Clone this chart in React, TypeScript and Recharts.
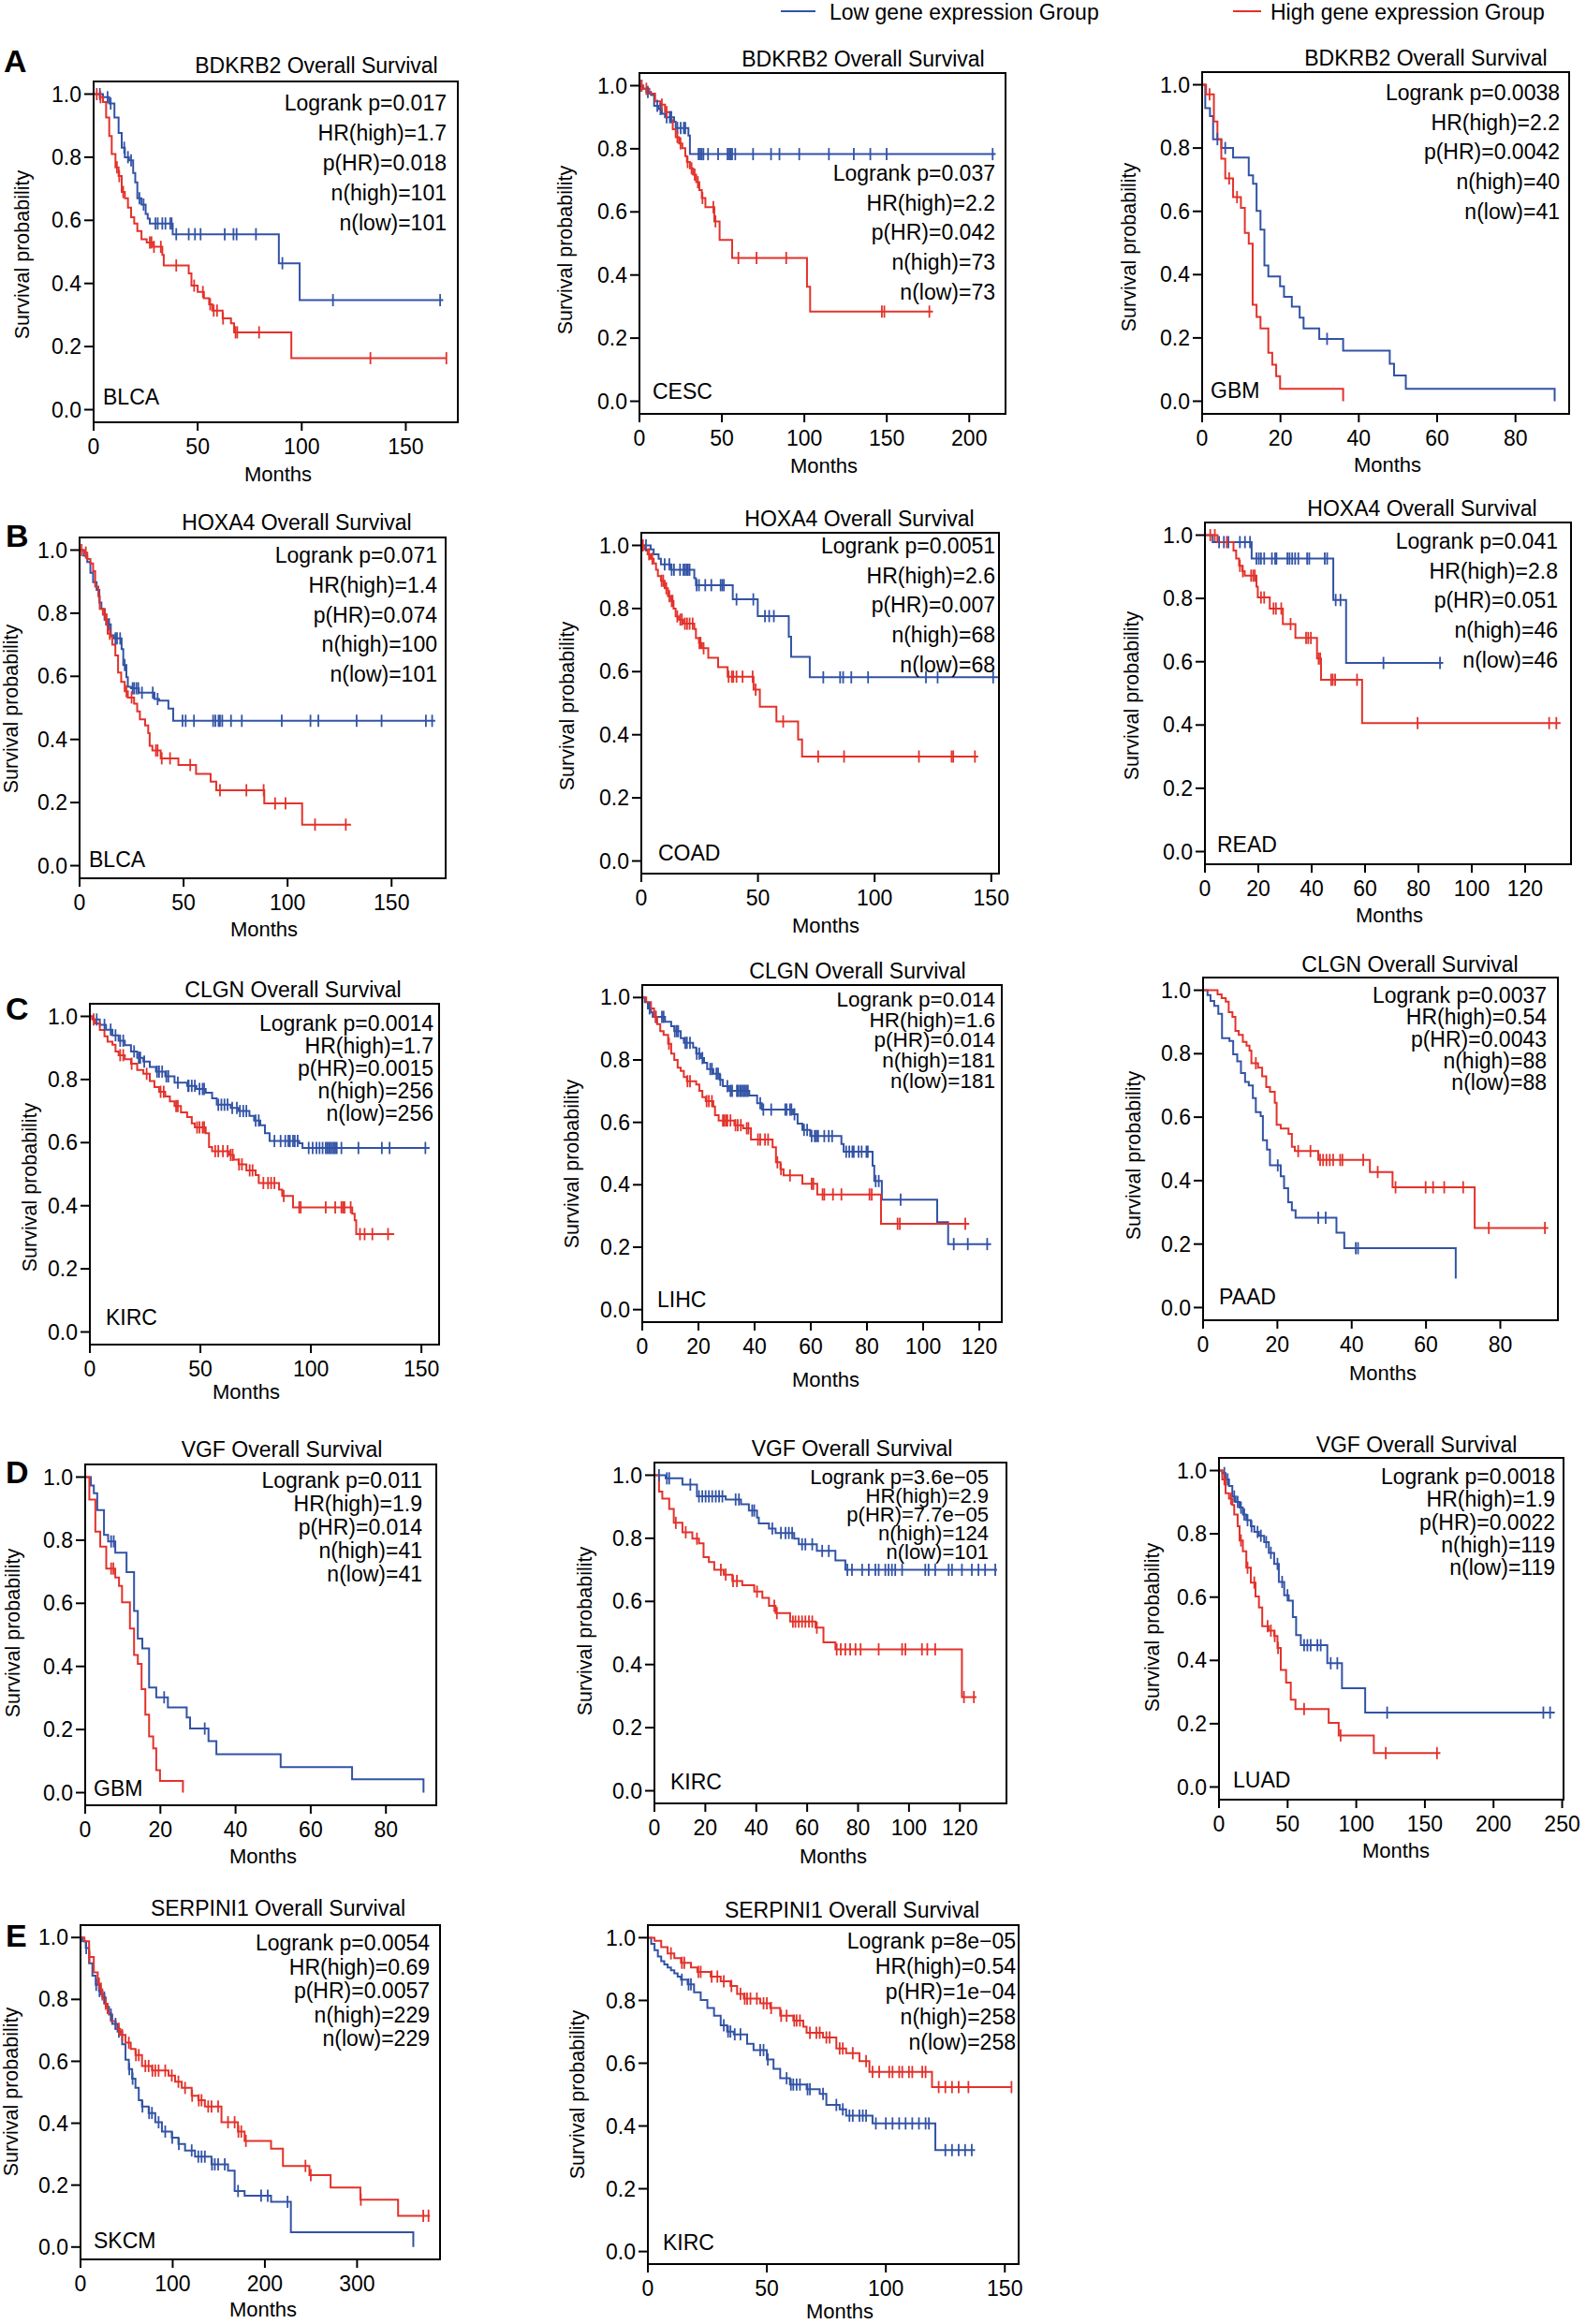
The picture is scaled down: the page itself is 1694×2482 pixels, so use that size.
import React from 'react';
import { ComposedChart, Line, Scatter, XAxis, YAxis, ReferenceArea } from 'recharts';

const BLUE = '#3253a5';
const RED = '#e3322b';
const FONT = '"Liberation Sans", Arial, Helvetica, sans-serif';

type Step = [number, number];

// ---- A: BDKRB2 ----
const a1Low: Step[] = [[0,1],[4.5,0.99],[7.5,0.97],[10,0.926],[12,0.877],[13.5,0.83],[15,0.8],[17,0.79],[19,0.75],[20,0.72],[21,0.67],[23,0.65],[25,0.62],[26,0.605],[27,0.59],[38,0.556],[89,0.464],[99,0.347],[168,0.347]];
const a1LowCens = [3,6.7,8.2,14.7,16.5,18,22,24,29.7,30.8,33,34.5,36.8,37.5,39.7,45.7,48.7,51.4,63,67.2,68.7,78,90.7,115,166.5];
const a1High: Step[] = [[0,1],[3,0.99],[4.5,0.975],[6,0.926],[7.5,0.867],[8.7,0.81],[10.5,0.768],[12,0.74],[13.5,0.69],[15,0.67],[16.5,0.64],[18,0.61],[19.5,0.59],[21,0.566],[23,0.54],[25.5,0.53],[28.5,0.516],[33,0.49],[33.7,0.457],[45.7,0.432],[47,0.393],[50,0.373],[53,0.353],[55.5,0.334],[57,0.314],[62,0.289],[66,0.274],[67.5,0.245],[95,0.163],[169.5,0.163]];
const a1HighCens = [1.5,3.3,11.2,12.3,14.2,27,27.8,29,32.3,39.7,48.3,52.5,56,57.7,59.3,62.2,68.2,69,79.5,133,169.5];
const a1Stats = ['Logrank p=0.017', 'HR(high)=1.7', 'p(HR)=0.018', 'n(high)=101', 'n(low)=101'];

const a2Low: Step[] = [[0,1],[2.3,0.99],[4.2,0.98],[7,0.97],[8.9,0.936],[11.7,0.926],[13.6,0.911],[15.5,0.9],[21,0.886],[22,0.866],[29.7,0.842],[30.6,0.783],[216,0.783]];
const a2LowCens = [1.3,5.1,10.8,12.7,16.5,18.4,19.3,23,25,26.9,27.8,35.8,36.9,37.8,38.8,41.6,47.7,53.4,54.5,55.3,56.2,58.1,68.9,79.8,84.9,96.9,114.9,130,140,149.9,214.2];
const a2High: Step[] = [[0,1],[2.3,0.99],[6,0.975],[9.5,0.95],[12.7,0.94],[15.5,0.916],[19,0.891],[20.2,0.862],[22,0.837],[24,0.817],[26,0.802],[27.8,0.777],[28.8,0.758],[30.6,0.738],[32.5,0.718],[34.4,0.694],[36.3,0.669],[37.8,0.644],[40,0.615],[45.4,0.57],[48.6,0.511],[56.2,0.454],[101.6,0.363],[103.5,0.284],[178,0.284]];
const a2HighCens = [1.3,4.2,13.6,16.5,23,24.9,29.2,31.6,33.5,35.4,38.2,44.8,46.1,60,71,89,147,148.5,175.8];
const a2Stats = ['Logrank p=0.037', 'HR(high)=2.2', 'p(HR)=0.042', 'n(high)=73', 'n(low)=73'];

const a3Low: Step[] = [[0,1],[0.8,0.926],[2,0.901],[2.8,0.828],[4.9,0.8],[7.9,0.77],[11.9,0.714],[13,0.687],[13.9,0.601],[14.9,0.542],[15.9,0.429],[16.9,0.394],[19.9,0.363],[20.9,0.33],[22.9,0.299],[24.9,0.264],[25.9,0.23],[29.9,0.197],[36,0.16],[47.9,0.118],[49,0.081],[52,0.039],[90,0]];
const a3LowCens = [3.9,5.9,31.9];
const a3High: Step[] = [[0,1],[1,0.97],[3,0.884],[3.9,0.828],[4.9,0.766],[5.9,0.704],[7.9,0.645],[9.9,0.611],[10.9,0.532],[11.9,0.498],[12.9,0.305],[13.9,0.266],[14.9,0.23],[16.9,0.153],[17.9,0.115],[18.9,0.079],[19.9,0.039],[36,0]];
const a3HighCens = [1.9,6.9,8.9];
const a3Stats = ['Logrank p=0.0038', 'HR(high)=2.2', 'p(HR)=0.0042', 'n(high)=40', 'n(low)=41'];

// ---- B: HOXA4 ----
const b1Low: Step[] = [[0,1],[2,0.982],[3.7,0.962],[5.2,0.928],[6.5,0.898],[8.2,0.874],[9.5,0.834],[10.5,0.814],[12,0.78],[13.5,0.765],[15,0.73],[16.5,0.72],[20.2,0.686],[21,0.636],[22.5,0.597],[23.2,0.567],[24.7,0.562],[28.5,0.548],[36,0.528],[38.2,0.523],[42.7,0.498],[45,0.459],[171,0.459]];
const b1LowCens = [12.7,14.2,17.2,18,19.5,21.7,25.5,26.2,27.3,28.2,30,35.2,37.5,49.5,51,55,64.2,65.3,66.8,67.5,68.6,72.8,78,97.2,111,114.8,133.2,145.2,166.5,169.5];
const b1High: Step[] = [[0,1],[2.2,0.992],[3.7,0.972],[5.2,0.958],[6.5,0.933],[7.5,0.884],[9,0.854],[9.7,0.814],[11.2,0.795],[12.7,0.78],[13.5,0.735],[15,0.726],[15.7,0.7],[17.2,0.666],[18.5,0.612],[20,0.582],[21.7,0.553],[23.2,0.533],[26.2,0.513],[27.7,0.489],[29,0.464],[31.5,0.444],[33,0.42],[33.7,0.38],[35,0.365],[39,0.34],[47.5,0.319],[56,0.291],[63,0.266],[65.7,0.239],[88.8,0.197],[107,0.13],[130.5,0.13]];
const b1HighCens = [1,3,12.2,13,14.5,22.5,25,36.7,37.5,39.5,43.5,53.2,67.5,80.2,88.5,94,99,113.2,128];
const b1Stats = ['Logrank p=0.071', 'HR(high)=1.4', 'p(HR)=0.074', 'n(high)=100', 'n(low)=101'];

const b2Low: Step[] = [[0,1],[4,0.987],[5.3,0.972],[7.4,0.958],[8.4,0.94],[12.7,0.923],[22.7,0.896],[23.4,0.874],[39.2,0.829],[49.9,0.776],[63.2,0.711],[64.2,0.647],[72.2,0.582],[153,0.582]];
const b2LowCens = [2,10,12,13,14,16.6,18,18.7,19.4,20,20.7,23.7,24.7,27.4,30,34,34.7,35.4,40.8,48,53,54.8,56.8,78,85.2,86.5,90,97.2,122,127,150.8];
const b2High: Step[] = [[0,1],[1.3,0.987],[2.7,0.972],[4,0.958],[5.3,0.943],[6.3,0.923],[7.1,0.903],[8.4,0.888],[10,0.864],[11.4,0.839],[12.7,0.824],[13.8,0.8],[14.7,0.775],[16,0.765],[18,0.752],[22.7,0.735],[23.4,0.706],[24.7,0.691],[26,0.674],[28.7,0.644],[32.9,0.614],[37,0.584],[48.1,0.543],[50.8,0.489],[57.9,0.442],[67.2,0.385],[68.9,0.331],[144.4,0.331]];
const b2HighCens = [0.7,3.3,4.7,8.7,9.4,10.7,12,13,13.4,15.4,16.7,17.4,18.7,19.6,20.7,22,24.9,25.4,26.7,37.4,38.8,39.4,40.8,43.4,47.7,49,60.8,75.8,86.9,119,133,133.7,143];
const b2Stats = ['Logrank p=0.0051', 'HR(high)=2.6', 'p(HR)=0.007', 'n(high)=68', 'n(low)=68'];

const b3Low: Step[] = [[0,1],[2.9,0.978],[17.5,0.926],[48.1,0.795],[52.9,0.596],[89.3,0.596]];
const b3LowCens = [5.3,7.1,8.8,13.1,15,16.9,19.3,20.2,21,22.2,25.1,26.3,26.8,30.9,31.7,32.7,33.8,35,38.3,39.1,44.9,45.8,49,50.8,66.9,88.1];
const b3High: Step[] = [[0,1],[4.7,0.978],[10.7,0.951],[11.7,0.926],[12.8,0.903],[14,0.886],[14.9,0.872],[19.3,0.837],[19.8,0.803],[24.3,0.768],[29.2,0.719],[33.9,0.675],[42,0.61],[43.5,0.543],[58.9,0.406],[133.3,0.406]];
const b3HighCens = [2,3.7,8.2,13.1,14.2,17.3,18.1,18.7,21,22.2,25.7,26.6,28.6,32.1,37.9,38.7,39.7,42.6,43.2,47.3,47.9,48.8,57,79.7,129,131.7];
const b3Stats = ['Logrank p=0.041', 'HR(high)=2.8', 'p(HR)=0.051', 'n(high)=46', 'n(low)=46'];

// ---- C: CLGN ----
const c1Low: Step[] = [[0,1],[1.7,0.99],[4.5,0.973],[7.3,0.958],[10.2,0.94],[13,0.923],[15.8,0.909],[18.6,0.889],[21.4,0.869],[24.2,0.857],[27.1,0.84],[29.9,0.825],[34.1,0.81],[38.3,0.79],[44,0.78],[48.2,0.77],[52.4,0.758],[55.3,0.74],[57.4,0.72],[63.7,0.71],[67.3,0.7],[72.2,0.685],[74.3,0.67],[77.1,0.655],[79.2,0.63],[81.3,0.605],[94.7,0.598],[96.2,0.583],[153.7,0.583]];
const c1LowCens = [3.1,6.6,9.4,11.6,13.7,15.1,20,22.1,22.8,24.6,30.4,31.3,32.7,34.6,35.5,39.8,44.4,44.7,46.1,47.5,49.6,51,51.7,58.1,59.5,60.9,62.3,64.4,66.5,67.9,69.4,70.8,75,76.4,83.5,86.3,88.4,89.8,90.5,91.9,92.7,94,99,100.8,102.5,103.9,105.3,106.7,107.4,108.1,108.8,109.6,110.3,111,111.7,113.8,121.5,132.1,135.6,151.8];
const c1High: Step[] = [[0,1],[1,0.99],[2.4,0.978],[4.5,0.957],[6.6,0.937],[8,0.92],[10.2,0.91],[11.6,0.889],[13,0.877],[15.8,0.864],[18.6,0.85],[21.4,0.83],[24.2,0.818],[27.1,0.795],[29.2,0.776],[31.3,0.761],[34.1,0.746],[36.2,0.731],[38.3,0.716],[41.2,0.696],[44,0.681],[46.1,0.661],[47.5,0.648],[52.4,0.63],[53.9,0.586],[55.3,0.573],[63,0.561],[65.1,0.546],[67.3,0.531],[70.8,0.512],[75,0.497],[76.4,0.472],[85.6,0.451],[87,0.431],[91.9,0.395],[118.7,0.375],[119.8,0.354],[120.5,0.31],[137.7,0.31]];
const c1HighCens = [1.7,13.7,15.1,18.9,25.7,32,33.4,39,39.8,48.5,49.6,51,51.7,56.7,58.1,60.2,62.3,63.7,64.6,67.5,68.8,72.3,73.6,78.5,80.6,82,83.5,87.7,94.7,95.4,106.7,111,113.8,114.5,115.2,118,122.2,124.3,127.8,134.9];
const c1Stats = ['Logrank p=0.0014', 'HR(high)=1.7', 'p(HR)=0.0015', 'n(high)=256', 'n(low)=256'];

const c2Low: Step[] = [[0,1],[0.9,0.985],[2,0.965],[3.1,0.952],[3.7,0.938],[8.1,0.922],[10.3,0.908],[11.4,0.892],[13.7,0.87],[14.8,0.855],[18.1,0.84],[19.2,0.82],[20.9,0.806],[22,0.791],[23.1,0.771],[25.3,0.756],[27.6,0.736],[28.7,0.716],[30.9,0.701],[38.1,0.686],[40.9,0.661],[42.6,0.641],[53.7,0.626],[55.3,0.596],[57,0.576],[59.8,0.556],[70.9,0.531],[71.7,0.506],[82,0.461],[82.6,0.412],[85.3,0.352],[105,0.28],[108.9,0.21],[124.2,0.21]];
const c2LowCens = [2.6,4.8,7,7.6,11.6,12.3,12.8,15.3,15.9,17,19.4,20.3,21.4,24.2,24.8,26.4,27,27.8,30.3,31.4,32,33.7,34.2,34.8,35.3,35.9,36.4,37,37.6,42,43.1,45.9,50.9,51.4,52.6,53.1,54.2,57.6,58.7,60.3,61.4,62,62.6,64.8,66.4,67.6,72.6,73.7,74.8,75.3,77,78.1,79.8,80.3,83.1,84.2,92,110.9,115.9,122.8];
const c2High: Step[] = [[0,1],[1.4,0.985],[3.1,0.965],[4.2,0.938],[5.3,0.915],[6.4,0.892],[7.6,0.88],[9.2,0.852],[10.3,0.82],[11.4,0.8],[12.6,0.775],[13.7,0.765],[14.8,0.745],[15.9,0.732],[19.2,0.721],[20.3,0.701],[21.4,0.681],[22.6,0.668],[25.3,0.651],[25.9,0.623],[27.2,0.606],[32.8,0.591],[35.9,0.581],[38.7,0.545],[46.4,0.52],[47.6,0.472],[49.2,0.45],[50.3,0.43],[57,0.403],[62.3,0.369],[85,0.275],[116.4,0.275]];
const c2HighCens = [4.8,9.5,16.1,17,22.9,23.7,24.8,28.7,29.2,29.8,30.3,31.4,33.2,34,35.1,37.2,37.8,41.2,42,43.7,44.8,48.1,49.4,52.6,60.3,60.9,64.2,64.8,67.9,70.9,80.9,81.7,90.9,91.7,115];
const c2Stats = ['Logrank p=0.014', 'HR(high)=1.6', 'p(HR)=0.014', 'n(high)=181', 'n(low)=181'];

const c3Low: Step[] = [[0,1],[1.2,0.985],[2,0.966],[3,0.951],[4.1,0.926],[5.1,0.849],[7.1,0.84],[8.1,0.798],[9.2,0.776],[10.2,0.739],[11.3,0.711],[12.3,0.7],[13.4,0.66],[14.2,0.616],[15.5,0.603],[16.1,0.527],[17.2,0.498],[18,0.448],[20.9,0.414],[21.8,0.376],[22.9,0.332],[23.9,0.307],[24.9,0.283],[35.9,0.236],[38,0.187],[68,0.091]];
const c3LowCens = [20.1,31,33,41.1,41.7];
const c3High: Step[] = [[0,1],[3.9,0.987],[5,0.975],[6.1,0.964],[6.9,0.931],[7.9,0.916],[8.7,0.872],[9.6,0.859],[10.7,0.837],[11.7,0.825],[12.5,0.81],[13,0.77],[14.8,0.756],[15.9,0.729],[17,0.695],[18,0.68],[19.3,0.645],[19.8,0.576],[20.9,0.564],[23,0.547],[23.9,0.507],[24.7,0.493],[31,0.465],[44.9,0.427],[51,0.379],[73.1,0.251],[92.9,0.251]];
const c3HighCens = [14.2,25.6,28.9,31.5,32.3,33.2,34.1,35,36.9,37.5,43.1,47,51.8,59.9,61.9,64.9,70,76.9,92];
const c3Stats = ['Logrank p=0.0037', 'HR(high)=0.54', 'p(HR)=0.0043', 'n(high)=88', 'n(low)=88'];

// ---- D: VGF ----
const d1Low: Step[] = [[0,1],[1.5,0.973],[2.3,0.949],[3.2,0.895],[5,0.817],[6.1,0.796],[8,0.76],[11,0.699],[13,0.576],[14,0.488],[15.2,0.457],[17,0.333],[18.9,0.302],[22,0.27],[27,0.238],[27.9,0.203],[32.8,0.163],[34.9,0.122],[52,0.081],[71,0.042],[90,0]];
const d1LowCens = [6.9,7.6,21,31.8];
const d1High: Step[] = [[0,1],[1.1,0.929],[2.7,0.827],[4,0.78],[5.6,0.71],[8,0.682],[9,0.655],[9.8,0.603],[11.9,0.52],[13,0.436],[14,0.408],[15,0.328],[16,0.247],[17,0.178],[18.1,0.14],[18.9,0.071],[19.9,0.037],[26,0]];
const d1HighCens = [6.9,7.5];
const d1Stats = ['Logrank p=0.011', 'HR(high)=1.9', 'p(HR)=0.014', 'n(high)=41', 'n(low)=41'];

const d2Low: Step[] = [[0,1],[4.4,0.99],[11,0.97],[16.7,0.933],[28,0.923],[34,0.908],[37.1,0.888],[40.3,0.866],[41,0.847],[45,0.831],[47.6,0.817],[54.9,0.799],[56.7,0.781],[63.8,0.76],[71.1,0.73],[75,0.7],[134.6,0.7]];
const d2LowCens = [1.8,4.9,5.8,14.1,17.5,18.8,20.1,21.4,22.7,24.1,25.4,26.7,31.9,33.2,38.4,39.2,46.3,49.7,51.5,52.8,54.1,58,59.3,62,65.9,68.5,75.8,77.6,81.6,84.2,86.8,88.1,90.7,92,93.3,94.6,97.3,106.4,107.7,110.3,115.6,116.9,120.8,124.7,127.3,129.9,133.9];
const d2High: Step[] = [[0,1],[1.8,0.948],[3.1,0.926],[5.8,0.893],[7.6,0.849],[11,0.819],[14.9,0.799],[17.5,0.784],[19.3,0.74],[21.4,0.725],[23.5,0.7],[27.2,0.685],[30.6,0.665],[34.5,0.651],[39.2,0.631],[42.4,0.611],[45,0.586],[47.6,0.563],[53.3,0.536],[63.3,0.517],[66.4,0.47],[71.1,0.448],[120.8,0.297],[126.5,0.297]];
const d2HighCens = [8.4,12.3,16.7,26.1,28,30.9,32.4,40.3,47.1,48.1,54.4,55.4,56.7,58,59.3,60.7,62,63.8,71.6,73.2,75,76.9,79,81,88.1,97.3,98.6,105.1,107.2,110.3,121.6,125.5];
const d2Stats = ['Logrank p=3.6e\u221205', 'HR(high)=2.9', 'p(HR)=7.7e\u221205', 'n(high)=124', 'n(low)=101'];

const d3Low: Step[] = [[0,1],[2.4,0.992],[4.8,0.972],[7.3,0.951],[9.7,0.918],[12.1,0.901],[15,0.883],[17.4,0.861],[19.9,0.843],[23.2,0.824],[25.7,0.806],[29.1,0.794],[32.9,0.774],[36.3,0.74],[40.2,0.705],[43.6,0.648],[47.5,0.606],[50.8,0.589],[53.8,0.537],[56.2,0.48],[59.6,0.448],[78.9,0.391],[89.6,0.312],[106.5,0.235],[244.6,0.235]];
const d3LowCens = [3.9,6.3,11.1,13.6,16,18.4,20.8,23.7,28.1,30.5,34.4,37.8,42.6,46,49.9,62,64.4,66.8,71.7,74.1,81.4,86.2,122.5,236.3,241.2];
const d3High: Step[] = [[0,1],[2.4,0.972],[4.8,0.928],[7.3,0.911],[9.7,0.891],[11.1,0.861],[13.6,0.824],[15,0.779],[17.4,0.745],[19.9,0.693],[23.2,0.646],[26.6,0.602],[29.1,0.567],[31.5,0.508],[36.3,0.494],[40.2,0.477],[42.6,0.439],[45,0.37],[48.9,0.33],[52.3,0.276],[55.7,0.246],[79.9,0.203],[87.2,0.163],[112.8,0.107],[161.3,0.107]];
const d3HighCens = [3.9,8.7,16,20.8,25.7,35.4,37.8,40.6,43,62,88.6,121.5,158.8];
const d3Stats = ['Logrank p=0.0018', 'HR(high)=1.9', 'p(HR)=0.0022', 'n(high)=119', 'n(low)=119'];

// ---- E: SERPINI1 ----
const e1Low: Step[] = [[0,1],[2.2,0.988],[5.7,0.966],[9.3,0.917],[12.9,0.877],[16.5,0.847],[20.1,0.827],[23.7,0.806],[27.3,0.776],[30.9,0.751],[34.4,0.721],[40.2,0.696],[45.2,0.655],[48.8,0.605],[52.4,0.575],[56,0.544],[59.6,0.514],[63.2,0.474],[66.7,0.454],[73.9,0.433],[81.1,0.403],[88.3,0.373],[99,0.353],[106.2,0.333],[113.4,0.312],[124.2,0.292],[142.1,0.267],[160,0.247],[167.2,0.181],[178,0.166],[206.7,0.146],[228.2,0.048],[361,0]];
const e1LowCens = [6.2,17,20.6,25.8,33,38,41.6,52.9,56.5,67.2,74.4,77.5,84.7,91.9,99.5,106.7,120.6,127.8,131.3,134.9,142.6,145.7,149.3,156.5,170.9,195.9,203.1,224.6];
const e1High: Step[] = [[0,1],[4.3,0.988],[9.3,0.937],[14.4,0.887],[18.7,0.851],[22.2,0.816],[25.8,0.786],[29.4,0.756],[33,0.73],[38,0.705],[43.1,0.685],[48.8,0.66],[54.5,0.64],[59.6,0.62],[66.7,0.585],[77.5,0.57],[95.5,0.554],[102.6,0.534],[109.8,0.514],[120.6,0.489],[127.8,0.474],[134.9,0.454],[152.9,0.403],[170.8,0.373],[178,0.343],[206.7,0.318],[219.6,0.262],[248.3,0.232],[271.3,0.192],[303.6,0.153],[344.5,0.101],[379,0.101]];
const e1HighCens = [9.8,20.1,23.7,27.3,41.6,45.2,52.4,60.1,63.2,70.3,73.9,78,81.1,84.7,91.9,99,106.2,113.4,121.1,128.3,131.3,138.5,142.1,149.3,160,167.2,171.3,174.4,179.4,244,249.8,304.1,371.8,377.5];
const e1Stats = ['Logrank p=0.0054', 'HR(high)=0.69', 'p(HR)=0.0057', 'n(high)=229', 'n(low)=229'];

const e2Low: Step[] = [[0,1],[1.4,0.98],[2.8,0.96],[4.2,0.94],[5.6,0.925],[6.9,0.915],[8.3,0.905],[9.7,0.896],[11.1,0.886],[12.5,0.876],[13.9,0.866],[16.7,0.851],[19.4,0.826],[22.2,0.801],[25,0.776],[27.8,0.751],[30.6,0.721],[33.3,0.701],[36.1,0.692],[41.7,0.662],[44.4,0.642],[50,0.612],[52.8,0.582],[55.6,0.552],[59.7,0.532],[66.7,0.517],[72.2,0.502],[75,0.467],[80.6,0.453],[83.3,0.433],[94.4,0.408],[120.8,0.323],[137.5,0.323]];
const e2LowCens = [14.3,17.1,18.1,31.9,33.7,34.7,36.5,38.9,47.2,48.6,50.4,58.3,60.1,61.1,62.5,63.9,67.1,68.1,73.6,79.2,81.9,84.7,86.1,88.9,90.3,91.7,95.8,100,102.8,105.6,108.3,111.1,113.9,116.7,118.1,125,127.8,130.6,133.3,136.1];
const e2High: Step[] = [[0,1],[2.8,0.99],[5.6,0.97],[8.3,0.95],[11.1,0.935],[13.9,0.92],[18.1,0.905],[20.8,0.891],[26.4,0.876],[30.6,0.861],[34.7,0.846],[37.5,0.821],[40.3,0.806],[47.2,0.791],[51.4,0.776],[55.6,0.751],[61.1,0.736],[65.3,0.716],[66.7,0.697],[73.6,0.682],[79.2,0.647],[83.3,0.632],[88.9,0.607],[93.1,0.572],[119.4,0.524],[152.8,0.524]];
const e2HighCens = [9.7,14.3,15.3,21.2,22.2,26.8,29.2,31.9,35.1,38.9,40.7,41.7,43.1,45.8,48.6,50,51.8,56,58.3,61.5,62.5,63.9,68.1,70.8,72.2,75,76.4,80.6,81.9,86.1,91.7,94.4,97.2,101.4,102.8,105.6,106.9,109.7,111.1,115.3,116.7,122.2,125,127.8,130.6,134.7,152.8];
const e2Stats = ['Logrank p=8e\u221205', 'HR(high)=0.54', 'p(HR)=1e\u221204', 'n(high)=258', 'n(low)=258'];

const Y_TICKS = [0, 0.2, 0.4, 0.6, 0.8, 1];
const T_50 = [0, 50, 100, 150];
const T_50_200 = [0, 50, 100, 150, 200];
const T_50_250 = [0, 50, 100, 150, 200, 250];
const T_20_80 = [0, 20, 40, 60, 80];
const T_20_120 = [0, 20, 40, 60, 80, 100, 120];
const T_100 = [0, 100, 200, 300];

type Panel = {
  id: string; x: number; y: number; w: number; h: number; xmax: number; xticks: number[];
  title: string; tx: number; ty: number; stats: string[]; sx: number; sy: number; sg: number; ss?: number;
  cancer: string; cx: number; cy: number; yx: number; yy: number; mx: number; my: number;
  low: Step[]; lowCens: number[]; high: Step[]; highCens: number[];
};

const PANELS: Panel[] = [
  { id: 'a1', x: 100, y: 87, w: 389, h: 364, xmax: 175, xticks: T_50, title: 'BDKRB2 Overall Survival', tx: 338, ty: 70, stats: a1Stats, sx: 477, sy: 110, sg: 32, cancer: 'BLCA', cx: 110, cy: 424, yx: 25, yy: 272, mx: 297, my: 507, low: a1Low, lowCens: a1LowCens, high: a1High, highCens: a1HighCens },
  { id: 'a2', x: 683, y: 78, w: 391, h: 364, xmax: 222, xticks: T_50_200, title: 'BDKRB2 Overall Survival', tx: 922, ty: 63, stats: a2Stats, sx: 1063, sy: 185, sg: 31.7, cancer: 'CESC', cx: 697, cy: 418, yx: 605, yy: 267, mx: 880, my: 498, low: a2Low, lowCens: a2LowCens, high: a2High, highCens: a2HighCens },
  { id: 'a3', x: 1284, y: 77, w: 392, h: 365, xmax: 93.7, xticks: T_20_80, title: 'BDKRB2 Overall Survival', tx: 1523, ty: 62, stats: a3Stats, sx: 1666, sy: 99, sg: 31.7, cancer: 'GBM', cx: 1293, cy: 417, yx: 1207, yy: 264, mx: 1482, my: 497, low: a3Low, lowCens: a3LowCens, high: a3High, highCens: a3HighCens },
  { id: 'b1', x: 85, y: 574, w: 391, h: 364, xmax: 176, xticks: T_50, title: 'HOXA4 Overall Survival', tx: 317, ty: 558, stats: b1Stats, sx: 467, sy: 593, sg: 31.8, cancer: 'BLCA', cx: 95, cy: 918, yx: 13, yy: 757, mx: 282, my: 993, low: b1Low, lowCens: b1LowCens, high: b1High, highCens: b1HighCens },
  { id: 'b2', x: 685, y: 569, w: 382, h: 364, xmax: 153.3, xticks: T_50, title: 'HOXA4 Overall Survival', tx: 918, ty: 554, stats: b2Stats, sx: 1063, sy: 583, sg: 31.7, cancer: 'COAD', cx: 703, cy: 911, yx: 607, yy: 754, mx: 882, my: 989, low: b2Low, lowCens: b2LowCens, high: b2High, highCens: b2HighCens },
  { id: 'b3', x: 1287, y: 558, w: 391, h: 365, xmax: 137.2, xticks: T_20_120, title: 'HOXA4 Overall Survival', tx: 1519, ty: 543, stats: b3Stats, sx: 1664, sy: 578, sg: 31.7, cancer: 'READ', cx: 1300, cy: 902, yx: 1210, yy: 743, mx: 1484, my: 978, low: b3Low, lowCens: b3LowCens, high: b3High, highCens: b3HighCens },
  { id: 'c1', x: 96, y: 1072, w: 373, h: 364, xmax: 158, xticks: T_50, title: 'CLGN Overall Survival', tx: 313, ty: 1057, stats: c1Stats, sx: 463, sy: 1093, sg: 24, cancer: 'KIRC', cx: 113, cy: 1407, yx: 33, yy: 1268, mx: 263, my: 1487, low: c1Low, lowCens: c1LowCens, high: c1High, highCens: c1HighCens },
  { id: 'c2', x: 686, y: 1052, w: 384, h: 360, xmax: 128, xticks: T_20_120, title: 'CLGN Overall Survival', tx: 916, ty: 1037, stats: c2Stats, sx: 1063, sy: 1068, sg: 21.7, ss: 22.5, cancer: 'LIHC', cx: 702, cy: 1388, yx: 612, yy: 1243, mx: 882, my: 1474, low: c2Low, lowCens: c2LowCens, high: c2High, highCens: c2HighCens },
  { id: 'c3', x: 1285, y: 1044, w: 379, h: 366, xmax: 95.5, xticks: T_20_80, title: 'CLGN Overall Survival', tx: 1506, ty: 1030, stats: c3Stats, sx: 1652, sy: 1063, sg: 23.3, cancer: 'PAAD', cx: 1302, cy: 1385, yx: 1212, yy: 1234, mx: 1477, my: 1467, low: c3Low, lowCens: c3LowCens, high: c3High, highCens: c3HighCens },
  { id: 'd1', x: 91, y: 1564, w: 375, h: 364, xmax: 93.4, xticks: T_20_80, title: 'VGF Overall Survival', tx: 301, ty: 1548, stats: d1Stats, sx: 451, sy: 1581, sg: 25, cancer: 'GBM', cx: 100, cy: 1910, yx: 15, yy: 1744, mx: 281, my: 1983, low: d1Low, lowCens: d1LowCens, high: d1High, highCens: d1HighCens },
  { id: 'd2', x: 699, y: 1562, w: 376, h: 364, xmax: 138.3, xticks: T_20_120, title: 'VGF Overall Survival', tx: 910, ty: 1547, stats: d2Stats, sx: 1056, sy: 1578, sg: 20, ss: 22, cancer: 'KIRC', cx: 716, cy: 1903, yx: 626, yy: 1742, mx: 890, my: 1983, low: d2Low, lowCens: d2LowCens, high: d2High, highCens: d2HighCens },
  { id: 'd3', x: 1302, y: 1557, w: 368, h: 365, xmax: 251, xticks: T_50_250, title: 'VGF Overall Survival', tx: 1513, ty: 1543, stats: d3Stats, sx: 1661, sy: 1577, sg: 24.3, cancer: 'LUAD', cx: 1317, cy: 1901, yx: 1232, yy: 1738, mx: 1491, my: 1977, low: d3Low, lowCens: d3LowCens, high: d3High, highCens: d3HighCens },
  { id: 'e1', x: 86, y: 2056, w: 384, h: 357, xmax: 390, xticks: T_100, title: 'SERPINI1 Overall Survival', tx: 297, ty: 2038, stats: e1Stats, sx: 459, sy: 2075, sg: 25.6, cancer: 'SKCM', cx: 100, cy: 2393, yx: 13, yy: 2234, mx: 281, my: 2467, low: e1Low, lowCens: e1LowCens, high: e1High, highCens: e1HighCens },
  { id: 'e2', x: 692, y: 2056, w: 396, h: 362, xmax: 155.8, xticks: T_50, title: 'SERPINI1 Overall Survival', tx: 910, ty: 2040, stats: e2Stats, sx: 1085, sy: 2073, sg: 27, cancer: 'KIRC', cx: 708, cy: 2395, yx: 618, yy: 2237, mx: 897, my: 2469, low: e2Low, lowCens: e2LowCens, high: e2High, highCens: e2HighCens },
];

const LETTERS = [
  { l: 'A', x: 4, y: 65 },
  { l: 'B', x: 6, y: 572 },
  { l: 'C', x: 6, y: 1077 },
  { l: 'D', x: 6, y: 1572 },
  { l: 'E', x: 6, y: 2067 },
];

const survAt = (steps: Step[], t: number) => {
  let s = 1;
  for (const [tt, ss] of steps) {
    if (tt <= t) s = ss;
    else break;
  }
  return s;
};
const toRows = (steps: Step[]) => steps.map(([t, s]) => ({ t, s }));
const censRows = (steps: Step[], times: number[]) => times.map((t) => ({ t, s: survAt(steps, t) }));

const censorMark = (color: string) => (props: any) => {
  const { cx, cy } = props;
  if (cx == null || cy == null) return <g />;
  return <line x1={cx} x2={cx} y1={cy - 6.5} y2={cy + 6.5} stroke={color} strokeWidth={1.8} />;
};

const YW = 60;
const TOP = 4;
const RIGHT = 32;
const XH = 48;

const tickStyle = { fontSize: 23, fill: '#000', fontFamily: FONT };

const KMPanel = ({ p }: { p: Panel }) => (
  <div style={{ position: 'absolute', left: p.x - YW, top: p.y - TOP }}>
    <ComposedChart width={YW + p.w + RIGHT} height={TOP + p.h + XH} margin={{ top: TOP, right: RIGHT, bottom: 0, left: 0 }}>
      <XAxis
        xAxisId="x"
        type="number"
        dataKey="t"
        domain={[0, p.xmax]}
        ticks={p.xticks}
        interval={0}
        allowDataOverflow
        height={XH}
        tickSize={9}
        tickMargin={9}
        tick={tickStyle}
        axisLine={{ stroke: '#000', strokeWidth: 2 }}
        tickLine={{ stroke: '#000', strokeWidth: 2 }}
      />
      <YAxis
        yAxisId="y"
        type="number"
        dataKey="s"
        domain={[-0.04, 1.04]}
        ticks={Y_TICKS}
        interval={0}
        allowDataOverflow
        width={YW}
        tickSize={10}
        tickMargin={3}
        tickFormatter={(v: number) => v.toFixed(1)}
        tick={tickStyle}
        axisLine={{ stroke: '#000', strokeWidth: 2 }}
        tickLine={{ stroke: '#000', strokeWidth: 2 }}
      />
      <ReferenceArea xAxisId="x" yAxisId="y" x1={0} x2={p.xmax} y1={-0.04} y2={1.04} fill="none" stroke="#000" strokeWidth={2} ifOverflow="visible" />
      <Line xAxisId="x" yAxisId="y" data={toRows(p.low)} dataKey="s" type="stepAfter" stroke={BLUE} strokeWidth={2} dot={false} isAnimationActive={false} />
      <Line xAxisId="x" yAxisId="y" data={toRows(p.high)} dataKey="s" type="stepAfter" stroke={RED} strokeWidth={2} dot={false} isAnimationActive={false} />
      <Scatter xAxisId="x" yAxisId="y" data={censRows(p.low, p.lowCens)} dataKey="s" shape={censorMark(BLUE)} isAnimationActive={false} />
      <Scatter xAxisId="x" yAxisId="y" data={censRows(p.high, p.highCens)} dataKey="s" shape={censorMark(RED)} isAnimationActive={false} />
    </ComposedChart>
  </div>
);

type TxtProps = { x: number; y: number; anchor?: 'start' | 'middle' | 'end'; size?: number; rotate?: boolean; bold?: boolean; children: React.ReactNode };
const Txt = ({ x, y, anchor = 'middle', size = 23, rotate = false, bold = false, children }: TxtProps) => {
  const tx = anchor === 'start' ? '0' : anchor === 'end' ? '-100%' : '-50%';
  return (
    <div
      style={{
        position: 'absolute',
        left: x,
        top: y,
        transform: `translate(${tx}, -50%)${rotate ? ' rotate(-90deg)' : ''}`,
        transformOrigin: rotate ? 'center' : undefined,
        fontSize: size,
        fontWeight: bold ? 'bold' : 'normal',
        lineHeight: 1,
        whiteSpace: 'nowrap',
      }}
    >
      {children}
    </div>
  );
};

const App = () => (
  <div style={{ position: 'absolute', left: 0, top: 0, width: 1694, height: 2482, background: '#fff', fontFamily: FONT, color: '#000', overflow: 'hidden' }}>
    {/* legend */}
    <div style={{ position: 'absolute', left: 834, top: 11, width: 37, height: 2, background: BLUE }} />
    <Txt x={886} y={13} anchor="start" size={23}>Low gene expression Group</Txt>
    <div style={{ position: 'absolute', left: 1317, top: 11, width: 30, height: 2, background: RED }} />
    <Txt x={1357} y={13} anchor="start" size={23}>High gene expression Group</Txt>

    {PANELS.map((p) => (
      <React.Fragment key={p.id}>
        <KMPanel p={p} />
        <Txt x={p.tx} y={p.ty}>{p.title}</Txt>
        {p.stats.map((s, i) => (
          <Txt key={s} x={p.sx} y={p.sy + i * p.sg} anchor="end" size={p.ss ?? 23}>{s}</Txt>
        ))}
        <Txt x={p.cx} y={p.cy} anchor="start">{p.cancer}</Txt>
        <Txt x={p.yx} y={p.yy} rotate size={21.5}>Survival probability</Txt>
        <Txt x={p.mx} y={p.my} size={22}>Months</Txt>
      </React.Fragment>
    ))}

    {LETTERS.map((l) => (
      <Txt key={l.l} x={l.x} y={l.y} anchor="start" size={34} bold>{l.l}</Txt>
    ))}
  </div>
);

export default App;
